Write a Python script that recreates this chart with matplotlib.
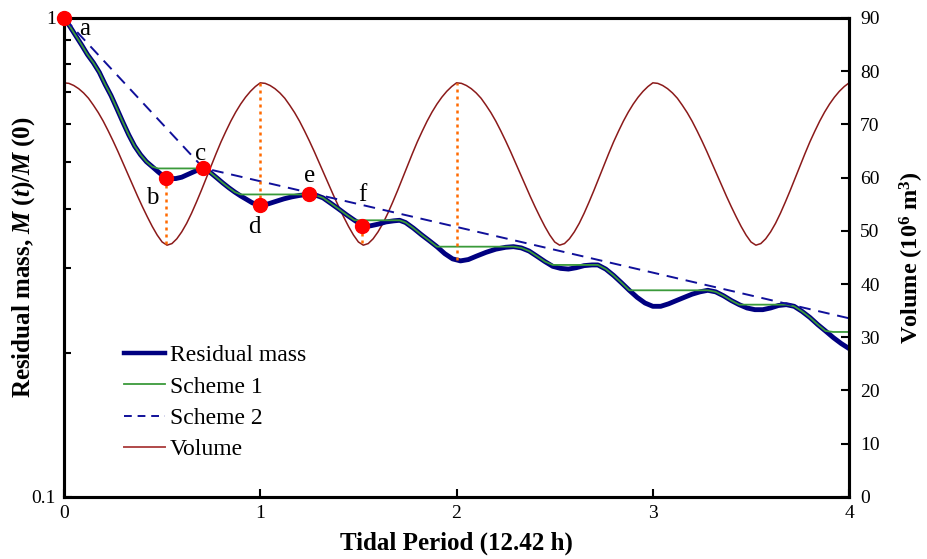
import numpy as np
import matplotlib
matplotlib.use("Agg")
import matplotlib.pyplot as plt
from matplotlib.lines import Line2D

plt.rcParams['font.family'] = ['Liberation Serif', 'DejaVu Serif']
plt.rcParams['mathtext.fontset'] = 'custom'
plt.rcParams['mathtext.rm'] = 'Liberation Serif'
plt.rcParams['mathtext.it'] = 'Liberation Serif:italic'
plt.rcParams['mathtext.bf'] = 'Liberation Serif:bold'
plt.rcParams['mathtext.bfit'] = 'Liberation Serif:bold:italic'

# ---------------- data ----------------
res_t = [0.00, 0.03, 0.06, 0.09, 0.12, 0.15, 0.18, 0.21, 0.24, 0.27, 0.30, 0.33, 0.36,
         0.39, 0.42, 0.45, 0.48, 0.51, 0.54, 0.57, 0.60, 0.63, 0.66, 0.69, 0.72, 0.75,
         0.78, 0.81, 0.84, 0.87, 0.90, 0.93, 0.96, 1.00, 1.04, 1.08, 1.12, 1.16, 1.20,
         1.24, 1.28, 1.32, 1.36, 1.40, 1.44, 1.48, 1.52, 1.56, 1.60, 1.64, 1.68, 1.71,
         1.74, 1.78, 1.82, 1.86, 1.90, 1.94, 1.98, 2.02, 2.06, 2.10, 2.15, 2.20, 2.25,
         2.29, 2.33, 2.37, 2.41, 2.45, 2.49, 2.53, 2.57, 2.61, 2.65, 2.69, 2.72, 2.76,
         2.80, 2.84, 2.88, 2.92, 2.96, 3.00, 3.04, 3.08, 3.12, 3.16, 3.20, 3.24, 3.28,
         3.32, 3.36, 3.40, 3.44, 3.48, 3.52, 3.56, 3.60, 3.64, 3.68, 3.72, 3.76, 3.80,
         3.84, 3.88, 3.92, 3.96, 4.00, 4.10, 4.20, 4.30, 4.40]
res_m = [1.000, 0.960, 0.918, 0.878, 0.838, 0.806, 0.770, 0.726, 0.688, 0.646, 0.606, 0.570, 0.540,
         0.518, 0.501, 0.489, 0.477, 0.466, 0.462, 0.462, 0.465, 0.471, 0.477, 0.483, 0.485, 0.474,
         0.463, 0.452, 0.442, 0.433, 0.425, 0.418, 0.411, 0.407, 0.409, 0.414, 0.419, 0.423, 0.426,
         0.428, 0.427, 0.421, 0.410, 0.399, 0.388, 0.378, 0.369, 0.368, 0.371, 0.375, 0.377, 0.378,
         0.374, 0.364, 0.353, 0.343, 0.333, 0.322, 0.314, 0.311, 0.313, 0.318, 0.324, 0.329, 0.332,
         0.333, 0.331, 0.326, 0.318, 0.310, 0.303, 0.300, 0.299, 0.301, 0.304, 0.305, 0.305, 0.299,
         0.290, 0.280, 0.270, 0.261, 0.254, 0.250, 0.250, 0.253, 0.257, 0.261, 0.265, 0.268, 0.270,
         0.268, 0.263, 0.257, 0.252, 0.248, 0.246, 0.246, 0.248, 0.251, 0.252, 0.250, 0.244, 0.237,
         0.229, 0.222, 0.215, 0.209, 0.204, 0.200, 0.212, 0.221, 0.212]

scheme2_t = [0.0, 0.71, 4.0]
scheme2_m = [1.0, 0.486, 0.236]

vol_period = [77.8, 77.7, 77.3, 76.7, 75.9, 74.9, 73.6, 72.2, 70.6, 68.8,
              66.9, 64.9, 62.8, 60.7, 58.6, 56.5, 54.5, 52.6, 50.8, 49.2,
              47.9, 47.3, 47.6, 48.5, 49.8, 51.4, 53.3, 55.4, 57.6, 59.9,
              62.2, 64.5, 66.7, 68.7, 70.6, 72.3, 73.8, 75.1, 76.2, 77.1]
vol_t = np.arange(0, 161) * 0.025
vol_v = vol_period * 4 + [77.8]

pt_labels = ['a', 'b', 'c', 'd', 'e', 'f']
pt_t = [0.0, 0.52, 0.71, 1.0, 1.25, 1.52]
pt_m = [1.0, 0.463, 0.486, 0.407, 0.428, 0.368]
label_offsets = [(15, -8), (-10, -14), (-2, 10), (-4, -16), (0, 13), (0, 22)]

vline_t = [0.52, 1.0, 1.52, 2.0]
vline_m = [0.463, 0.407, 0.368, 0.312]
vline_vol = [47.3, 77.8, 47.3, 77.8]

# scheme 1: residual held at the level of the next peak during each dip
scheme1_m = np.maximum.accumulate(np.array(res_m)[::-1])[::-1]

# ---------------- figure ----------------
fig = plt.figure(figsize=(9.27, 5.59), dpi=100)
ax = fig.add_axes([0.069, 0.111, 0.847, 0.857])
ax2 = ax.twinx()
ax.set_zorder(ax2.get_zorder() + 1)
ax.patch.set_visible(False)

ax2.plot(vol_t, vol_v, color='#8B1A1A', lw=1.1)
ax2.set_ylim(0, 90)
ax2.set_yticks(range(0, 91, 10))

ax.set_yscale('log')
ax.set_ylim(0.1, 1)
ax.set_xlim(0, 4)

ax.plot(res_t, res_m, color='#000080', lw=3.5, solid_capstyle='round', solid_joinstyle='round')
ax.plot(res_t, scheme1_m, color='#3A9A3A', lw=1.3)
ax.plot(scheme2_t, scheme2_m, color='#10109A', lw=1.4, dashes=(6, 4))

for t, m, v in zip(vline_t, vline_m, vline_vol):
    mv = 10 ** (v / 90.0 - 1.0)
    ax.plot([t, t], [m, mv], color='#FF6A00', lw=1.8, ls=(0, (1.2, 1.6)))

ax.plot(pt_t, pt_m, 'o', color='#FF0000', ms=10, clip_on=False, zorder=5)
for lab, t, m, off in zip(pt_labels, pt_t, pt_m, label_offsets):
    ax.annotate(lab, (t, m), xytext=off, textcoords='offset points',
                fontsize=18, ha='center', va='center')

# ticks & spines
ax.set_xticks([0, 1, 2, 3, 4])
ax.set_yticks([0.1, 1])
ax.set_yticklabels(['0.1', '1'])
ax.yaxis.set_minor_locator(matplotlib.ticker.LogLocator(base=10, subs=np.arange(2, 10)))
ax.yaxis.set_minor_formatter(matplotlib.ticker.NullFormatter())
ax.tick_params(axis='both', which='major', direction='in', length=6, width=1.5,
               labelsize=14, pad=6)
ax.tick_params(axis='y', which='minor', direction='in', length=5, width=1.5)
ax2.tick_params(axis='y', which='major', direction='in', length=6, width=1.5,
                labelsize=14, pad=8)
for a in (ax, ax2):
    for s in a.spines.values():
        s.set_linewidth(2.2)

ax.set_xlabel('Tidal Period (12.42 h)', fontsize=18, fontweight='bold')
ax.xaxis.set_label_coords(0.5, -0.073)
ax.set_ylabel(r'Residual mass, $\mathbfit{M}\ \mathbf{(}\mathbfit{t}\mathbf{)/}\mathbfit{M}\ \mathbf{(0)}$',
              fontsize=18, fontweight='bold')
ax.yaxis.set_label_coords(-0.034, 0.5)
ax2.set_ylabel(r'Volume (10$^{\mathbf{6}}$ m$^{\mathbf{3}}$)', fontsize=17.5,
               fontweight='bold')
ax2.yaxis.set_label_coords(1.062, 0.5)

handles = [Line2D([], [], color='#000080', lw=3.2),
           Line2D([], [], color='#3A9A3A', lw=1.3),
           Line2D([], [], color='#10109A', lw=1.4, dashes=(4, 3)),
           Line2D([], [], color='#B04A4A', lw=1.4)]
ax.legend(handles, ['Residual mass', 'Scheme 1', 'Scheme 2', 'Volume'],
          loc='upper left', bbox_to_anchor=(0.0764, 0.318), frameon=False,
          borderpad=0, borderaxespad=0,
          fontsize=17, handlelength=1.75, handletextpad=0.2, labelspacing=0.42)

fig.savefig('out.png', dpi=100)
